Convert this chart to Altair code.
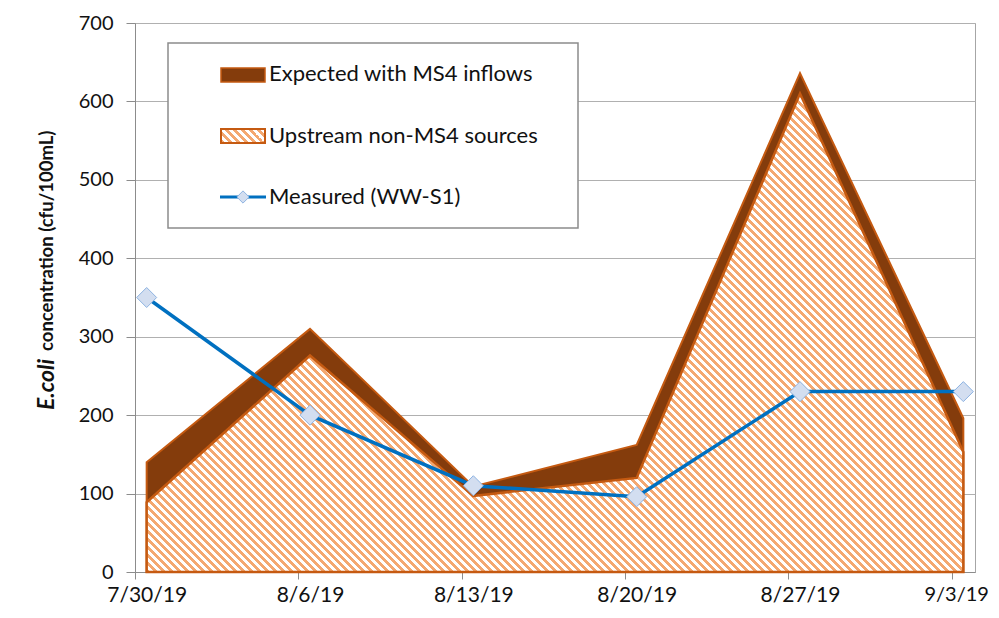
import math
import altair as alt
import pandas as pd

# ---------------- data ----------------
dates = ["2019-07-30", "2019-08-06", "2019-08-13", "2019-08-20", "2019-08-27", "2019-09-03"]
expected = [140, 310, 109, 162, 636, 196]      # Expected with MS4 inflows
upstream = [89, 276, 97, 120, 610, 153]        # Upstream non-MS4 sources
measured = [350, 200, 110, 96, 230, 230]       # Measured (WW-S1)
series_names = ["Expected with MS4 inflows", "Upstream non-MS4 sources", "Measured (WW-S1)"]
y_ticks = [0, 100, 200, 300, 400, 500, 600, 700]

# ---------------- layout / style ----------------
W, H = 840, 549
Y_MAX = 700
DAYS = 36
FONT = "Lato"
DARK = "#843C0C"
ORANGE = "#C55A11"
HATCH = "#F4A870"
BLUE = "#0070C0"

df = pd.DataFrame({
    "date": [d + "T12:00:00" for d in dates],
    "expected": expected,
    "upstream": upstream,
    "measured": measured,
})


def stripe_gradient(w, h, period_x, c1, c2):
    r = h / w
    k = (1 + r) / (1 + r * r)
    n = (w + h) / period_x  # number of periods along gradient
    stops = []
    i = 0
    while i < n:
        a, b, c = i / n, min((i + 0.5) / n, 1), min((i + 1) / n, 1)
        stops += [{"offset": a, "color": c1}, {"offset": b, "color": c1},
                  {"offset": b, "color": c2}, {"offset": c, "color": c2}]
        i += 1
    return {"gradient": "linear", "x1": 0, "y1": 1, "x2": k, "y2": 1 - k * r, "stops": stops}


hatch_w = W * (DAYS - 1) / DAYS
hatch_h = max(upstream) * H / Y_MAX
area_grad = stripe_gradient(hatch_w, hatch_h, 8, HATCH, "#FFFFFF")

LAST = "datum.value > 1567300000000"
x_enc = alt.X(
    "date:T",
    scale=alt.Scale(domain=[alt.DateTime(year=2019, month=7, date=30),
                            alt.DateTime(year=2019, month=9, date=4)]),
    axis=alt.Axis(
        values=[alt.DateTime(year=int(d[:4]), month=int(d[5:7]), date=int(d[8:])) for d in dates],
        format="%-m/%-d/%y",
        labelOffset={"condition": {"test": LAST, "value": 4.5}, "value": W / DAYS / 2},
        tickSize=7, labelPadding=5,
        labelFont=FONT,
        labelFontSize={"condition": {"test": LAST, "value": 20}, "value": 21},
        labelColor="#111", labelAngle=0,
        labelFlush=False, labelOverlap=False, labelBound=False,
        domainColor="#8C8C8C", tickColor="#8C8C8C", grid=False, title=None,
    ),
)
y_scale = alt.Scale(domain=[0, Y_MAX], nice=False)

base = alt.Chart(df)

exp_area = base.mark_area(fill=DARK, stroke=ORANGE, strokeWidth=2, strokeJoin="miter").encode(
    x=x_enc,
    y=alt.Y("expected:Q", scale=y_scale, axis=alt.Axis(
        values=y_ticks, tickSize=9, labelPadding=13, labelFont=FONT, labelFontSize=20,
        labelColor="#111", domainColor="#8C8C8C", tickColor="#8C8C8C",
        gridColor="#B0B0B0", grid=True, title=None)),
)
up_area = base.mark_area(fill=area_grad, stroke=ORANGE, strokeWidth=2.5, strokeJoin="miter").encode(
    x="date:T", y="upstream:Q",
)
meas_line = base.mark_line(color=BLUE, strokeWidth=3.5).encode(x="date:T", y="measured:Q")
meas_pts = base.mark_point(shape="diamond", filled=True, fill="#D3DEF0", stroke="#8DB3E2",
                           strokeWidth=1, size=400, opacity=1).encode(x="date:T", y="measured:Q")

# ---------------- legend (decoration) ----------------
one = pd.DataFrame({"k": [0]})
leg_box = alt.Chart(one).mark_rect(fill="white", stroke="#8C8C8C", strokeWidth=1.5).encode(
    x=alt.value(33), x2=alt.value(443), y=alt.value(20), y2=alt.value(205))
sw_exp = alt.Chart(one).mark_rect(fill=DARK, stroke=ORANGE, strokeWidth=1.5).encode(
    x=alt.value(86), x2=alt.value(130), y=alt.value(45), y2=alt.value(59))
sw_up = alt.Chart(one).mark_rect(fill=stripe_gradient(44, 14, 8, HATCH, "#FFFFFF"),
                                 stroke=ORANGE, strokeWidth=2).encode(
    x=alt.value(86), x2=alt.value(130), y=alt.value(106), y2=alt.value(120))
sw_line = alt.Chart(one).mark_rule(color=BLUE, strokeWidth=3).encode(
    x=alt.value(85), x2=alt.value(131), y=alt.value(174))
sw_pt = alt.Chart(one).mark_point(shape="diamond", filled=True, fill="#D3DEF0", stroke="#8DB3E2",
                                  strokeWidth=1, size=150, opacity=1).encode(
    x=alt.value(108), y=alt.value(174))
leg_ys = [51, 113, 174]
leg_text = [
    alt.Chart(one).mark_text(text=name, align="left", baseline="middle", font=FONT,
                             fontSize=22, color="#111").encode(x=alt.value(134), y=alt.value(yy))
    for name, yy in zip(series_names, leg_ys)
]

# ---------------- y-axis title with italic part ----------------
t1 = alt.Chart(one).mark_text(text="E.coli", angle=270, align="left", baseline="middle", font=FONT,
                              fontSize=23, fontWeight="bold", fontStyle="italic", color="#111").encode(
    x=alt.value(-88), y=alt.value(387))
t2 = alt.Chart(one).mark_text(text="concentration (cfu/100mL)", angle=270, align="left",
                              baseline="middle", font=FONT, fontSize=18.5, fontWeight="bold",
                              color="#111").encode(x=alt.value(-88), y=alt.value(328))

chart = alt.layer(
    exp_area, up_area, meas_line, meas_pts,
    leg_box, sw_exp, sw_up, sw_line, sw_pt, *leg_text, t1, t2,
).properties(
    width=W, height=H,
    autosize=alt.AutoSizeParams(type="none"),
    padding={"left": 127, "top": 15, "right": 16, "bottom": 38},
).configure_view(stroke="#A6A6A6", strokeWidth=1)

chart.save("out.html", embed_options={"renderer": "svg", "actions": False})
